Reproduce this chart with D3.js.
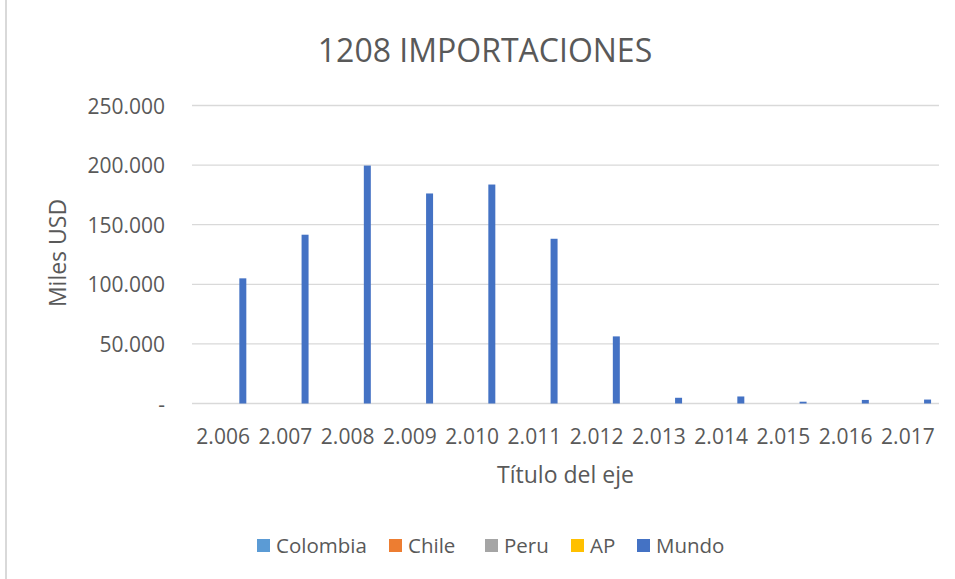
<!DOCTYPE html>
<html><head><meta charset="utf-8">
<script src="https://cdn.jsdelivr.net/npm/d3@7"></script>
<style>
html,body{margin:0;padding:0;background:#fff;}
text{font-family:"Open Sans",sans-serif;fill:#595959;}
</style></head>
<body><svg id="c" width="955" height="579"></svg>
<script>
const categories = ["2.006","2.007","2.008","2.009","2.010","2.011","2.012","2.013","2.014","2.015","2.016","2.017"];
const seriesNames = ["Colombia","Chile","Peru","AP","Mundo"];
const seriesColors = ["#5B9BD5","#ED7D31","#A5A5A5","#FFC000","#4472C4"];
const colombia = [0,0,0,0,0,0,0,0,0,0,0,0];
const chile = [0,0,0,0,0,0,0,0,0,0,0,0];
const peru = [0,0,0,0,0,0,0,0,0,0,0,0];
const ap = [0,0,0,0,0,0,0,0,0,0,0,0];
const mundo = [105000,141600,199600,176200,183700,138200,56300,4800,5900,1500,3000,3300];
const yTicks = [0,50000,100000,150000,200000,250000];
const yTickLabels = ["-","50.000","100.000","150.000","200.000","250.000"];
const title = "1208 IMPORTACIONES";
const xTitle = "Título del eje";
const yTitle = "Miles USD";

const seriesValues = [colombia, chile, peru, ap, mundo];
const svg = d3.select("#c");
const W = 955, H = 579;
const m = {left:192, right:939, top:105.5, bottom:403.5};

svg.append("line").attr("x1",6).attr("x2",6).attr("y1",0).attr("y2",H)
  .attr("stroke","#d9d9d9").attr("stroke-width",2);

const x0 = d3.scaleBand().domain(categories).range([m.left, m.right]).padding(0);
const inner = 49.25;
const x1 = d3.scaleBand().domain(seriesNames)
  .range([(x0.bandwidth()-inner)/2, (x0.bandwidth()+inner)/2])
  .paddingInner(0.29).paddingOuter(0.145);
const y = d3.scaleLinear().domain([0,250000]).range([m.bottom, m.top]);
const color = d3.scaleOrdinal().domain(seriesNames).range(seriesColors);

// gridlines
svg.append("g").selectAll("line").data(yTicks).join("line")
  .attr("x1",m.left).attr("x2",m.right)
  .attr("y1",d=>y(d)).attr("y2",d=>y(d))
  .attr("stroke","#d9d9d9").attr("stroke-width",1.3);

// y axis labels
const yAxis = d3.axisLeft(y).tickValues(yTicks).tickSize(0).tickPadding(0)
  .tickFormat((d,i)=>yTickLabels[i]);
const ya = svg.append("g").attr("transform",`translate(165,0)`).call(yAxis);
ya.select(".domain").remove();
ya.selectAll("text").attr("font-size",21).attr("fill","#595959")
  .style("font-family","'Open Sans',sans-serif").attr("dy","0.36em");

// x axis labels
const xAxis = d3.axisBottom(x0).tickSize(0).tickPadding(0);
const xa = svg.append("g").attr("transform",`translate(0,${m.bottom})`).call(xAxis);
xa.select(".domain").remove();
xa.selectAll("text").attr("font-size",21).attr("fill","#595959")
  .style("font-family","'Open Sans',sans-serif").attr("y",40).attr("dy",0);

// bars
const data = [];
categories.forEach((c,i)=>seriesNames.forEach((s,j)=>data.push({c, s, v: seriesValues[j][i]})));
svg.append("g").selectAll("rect").data(data.filter(d=>d.v>0)).join("rect")
  .attr("x",d=>x0(d.c)+x1(d.s))
  .attr("width",x1.bandwidth())
  .attr("y",d=>y(d.v))
  .attr("height",d=>y(0)-y(d.v))
  .attr("fill",d=>color(d.s));

// titles
svg.append("text").attr("x",485).attr("y",62).attr("text-anchor","middle")
  .attr("font-size",32).text(title);
svg.append("text").attr("x",(m.left+m.right)/2).attr("y",483).attr("text-anchor","middle")
  .attr("font-size",23).text(xTitle);
svg.append("text").attr("transform",`translate(66,253) rotate(-90)`)
  .attr("text-anchor","middle").attr("font-size",23).text(yTitle);

// legend
const legX = [257,389,485,571,637];
const lg = svg.append("g").selectAll("g").data(seriesNames).join("g")
  .attr("transform",(d,i)=>`translate(${legX[i]},539)`);
lg.append("rect").attr("width",13).attr("height",13).attr("fill",d=>color(d));
lg.append("text").attr("x",19).attr("y",13.5).attr("font-size",20.5).text(d=>d);
</script></body></html>
